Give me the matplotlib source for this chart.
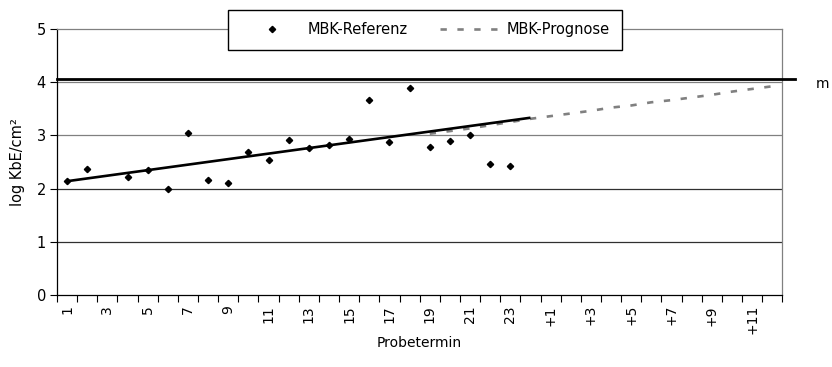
import numpy as np
import matplotlib
matplotlib.use("Agg")
import matplotlib.pyplot as plt
import matplotlib.transforms as mtransforms

# categories: 24 sample dates + 12 forecast steps
categories = [str(i) for i in range(1, 25)] + ["+%d" % i for i in range(1, 13)]

# MBK-Referenz measurements (nan = no value)
referenz = [2.15, 2.37, np.nan, 2.22, 2.35, 2.00, 3.04, 2.16, 2.10, 2.69,
            2.53, 2.92, 2.77, 2.81, 2.94, 3.67, 2.87, 3.88, 2.79, 2.90,
            3.00, 2.47, 2.42, np.nan]

# linear trend of the reference (start / end category)
trend_cat = [1, 24]
trend_val = [2.14, 3.33]

# MBK-Prognose (category 19 .. +12)
prognose_cat = list(range(19, 37))
prognose_val = [3.03, 3.08, 3.13, 3.19, 3.25, 3.31, 3.36, 3.41, 3.46, 3.52,
                3.56, 3.62, 3.66, 3.71, 3.76, 3.82, 3.87, 3.92]

# limit line
limit_val = 4.06
limit_label = "m"

plt.rcParams["font.family"] = ["DejaVu Sans"]
plt.rcParams["font.size"] = 10

fig = plt.figure(figsize=(8.32, 3.67), dpi=100)
ax = fig.add_axes([57 / 832, 71.7 / 367, 725.3 / 832, 266.6 / 367])

n = len(categories)
x_ref = np.arange(1, len(referenz) + 1)

# grid lines
for yv, col in [(1, "#303030"), (2, "#303030"), (3, "#808080"), (4, "#808080")]:
    ax.axhline(yv, color=col, lw=0.9, zorder=1)

ax.plot(x_ref, referenz, linestyle="none", marker="D", markersize=3.2,
        color="black", zorder=4, label="MBK-Referenz")
ax.plot(trend_cat, trend_val, color="black", lw=1.9, zorder=3,
        solid_capstyle="butt")
ax.plot(prognose_cat, prognose_val, color="#808080", lw=1.9, zorder=2,
        dashes=(2.4, 4.0), dash_capstyle="butt", label="MBK-Prognose")

# limit line extending a bit past the plot area
trans = mtransforms.blended_transform_factory(ax.transAxes, ax.transData)
ax.plot([0, 1.0175], [limit_val, limit_val], color="black", lw=2.0,
        transform=trans, clip_on=False, zorder=5)
fig.text(816 / 832, 1 - 84 / 367, limit_label, fontsize=10, va="center", ha="left")

ax.set_xlim(0.5, n + 0.5)
ax.set_ylim(0, 5)
ax.set_yticks([0, 1, 2, 3, 4, 5])
ax.tick_params(axis="y", length=5, width=0.8, pad=3, labelsize=10.5)

ax.set_xticks(np.arange(0.5, n + 1.0, 1.0), minor=False)
ax.set_xticklabels([])
ax.tick_params(axis="x", which="major", length=5, width=0.8, direction="out")
ax.set_xticks(np.arange(1, n + 1, 2), minor=True)
ax.set_xticklabels(categories[::2], minor=True, rotation=90, va="top", ha="center")
ax.tick_params(axis="x", which="minor", length=0, pad=7, labelsize=10)

ax.spines["left"].set_color("black")
ax.spines["bottom"].set_color("black")
ax.spines["top"].set_color("#808080")
ax.spines["right"].set_color("#808080")
for s in ax.spines.values():
    s.set_linewidth(0.9)

ax.set_ylabel("log KbE/cm²", fontsize=10.5, labelpad=8)
ax.set_xlabel("Probetermin", fontsize=10, labelpad=1)

fig.legend(loc="upper center", bbox_to_anchor=(425 / 832, 1 - 10 / 367),
           ncol=2, frameon=True, fancybox=False, edgecolor="black",
           framealpha=1, borderpad=0.85, borderaxespad=0, handlelength=4.3,
           handletextpad=0.3, columnspacing=2.2, fontsize=10.5)

fig.savefig("out.png", dpi=100)
